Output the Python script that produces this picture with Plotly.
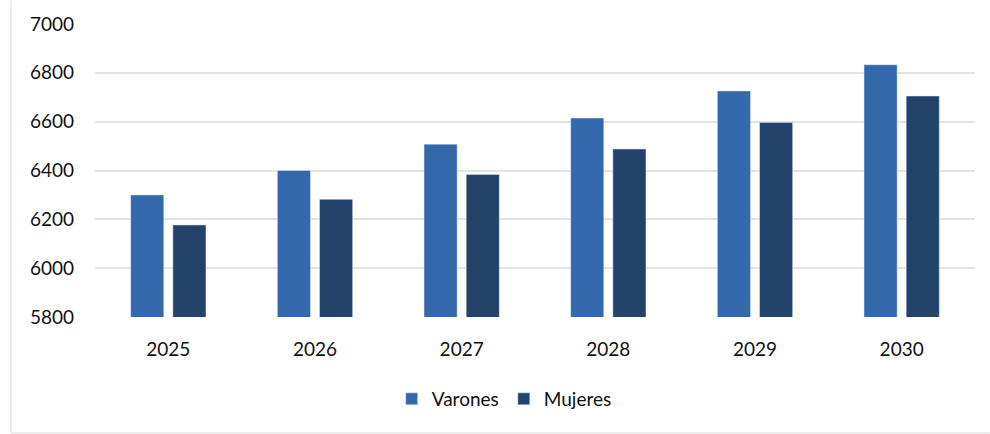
import plotly.graph_objects as go

years = ["2025", "2026", "2027", "2028", "2029", "2030"]
varones = [6300, 6400, 6508, 6615, 6726, 6833]
mujeres = [6177, 6282, 6384, 6488, 6597, 6705]
y_ticks = [5800, 6000, 6200, 6400, 6600, 6800, 7000]

font_family = "Lato, 'Open Sans', sans-serif"

fig = go.Figure()
fig.add_trace(go.Bar(x=years, y=varones, name="Varones", marker_color="#3468AC"))
fig.add_trace(go.Bar(x=years, y=mujeres, name="Mujeres", marker_color="#23436B"))

fig.update_layout(
    width=990, height=434,
    paper_bgcolor="white", plot_bgcolor="white",
    margin=dict(l=95, r=15, t=24, b=117),
    barmode="group", bargap=0.425, bargroupgap=0.214,
    font=dict(family=font_family, size=19, color="#111111"),
    showlegend=True,
    legend=dict(orientation="h", x=0.465, xanchor="center", y=-0.215, yanchor="top",
                font=dict(size=19), itemwidth=30, traceorder="normal"),
    xaxis=dict(showgrid=False, showline=False, ticks="", ticklabelstandoff=19,
               tickfont=dict(size=19)),
    yaxis=dict(range=[5800, 7000], tickvals=y_ticks, showgrid=True,
               gridcolor="#e4e4e4", gridwidth=1.5, zeroline=False, showline=False,
               ticks="", ticklabelstandoff=20, tickfont=dict(size=19)),
    shapes=[
        dict(type="line", xref="paper", yref="paper", x0=-0.0955, x1=-0.0955,
             y0=-0.396, y1=1.08, line=dict(color="#e6e6e6", width=1.5)),
        dict(type="line", xref="paper", yref="paper", x0=-0.0955, x1=1.017,
             y0=-0.396, y1=-0.396, line=dict(color="#e6e6e6", width=1.5)),
    ],
)

fig.write_html("out.html", config={"displayModeBar": False},
               post_script="document.body.style.margin='0';")
